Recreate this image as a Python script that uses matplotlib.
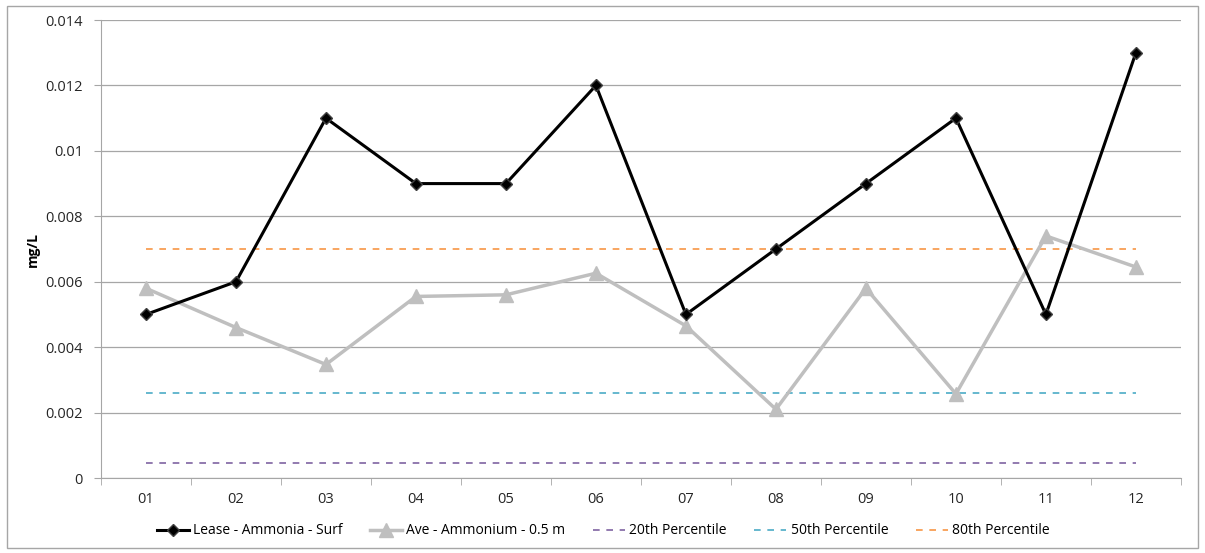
import matplotlib
matplotlib.use("Agg")
import matplotlib.pyplot as plt
from matplotlib.patches import Rectangle

months = ["01", "02", "03", "04", "05", "06", "07", "08", "09", "10", "11", "12"]
lease_ammonia = [0.005, 0.006, 0.011, 0.009, 0.009, 0.012, 0.005, 0.007, 0.009, 0.011, 0.005, 0.013]
ave_ammonium = [0.0058, 0.0046, 0.00347, 0.00555, 0.0056, 0.00626, 0.00465, 0.0021, 0.0058, 0.00257, 0.0074, 0.00645]
p20 = 0.00047
p50 = 0.0026
p80 = 0.007

plt.rcParams['font.family'] = ['Open Sans', 'DejaVu Sans']

fig = plt.figure(figsize=(12.05, 5.53), dpi=100)
ax = fig.add_axes([0.0838, 0.1356, 0.8962, 0.8282])

# outer chart frame
fig.patches.append(Rectangle((0.006, 0.009), 0.988, 0.981, transform=fig.transFigure,
                             fill=False, edgecolor="#a6a6a6", linewidth=1))

x = list(range(len(months)))
ax.plot(x, lease_ammonia, color="black", linewidth=2.2, marker="D", markersize=6,
        markerfacecolor="black", markeredgecolor="#404040", label="Lease - Ammonia - Surf", zorder=4)
ax.plot(x, ave_ammonium, color="#bfbfbf", linewidth=2.5, marker="^", markersize=10,
        label="Ave - Ammonium - 0.5 m", zorder=3)
ax.plot([x[0], x[-1]], [p20, p20], color="#7f64a2", linestyle=(0, (4, 4)), linewidth=1.2,
        label="20th Percentile", zorder=2)
ax.plot([x[0], x[-1]], [p50, p50], color="#4babc6", linestyle=(0, (4, 4)), linewidth=1.2,
        label="50th Percentile", zorder=2)
ax.plot([x[0], x[-1]], [p80, p80], color="#f79646", linestyle=(0, (4, 4)), linewidth=1.2,
        label="80th Percentile", zorder=2)

ax.set_xlim(-0.5, 11.5)
ax.set_ylim(0, 0.014)
ax.set_yticks([0, 0.002, 0.004, 0.006, 0.008, 0.01, 0.012, 0.014])
ax.set_yticklabels(["0", "0.002", "0.004", "0.006", "0.008", "0.01", "0.012", "0.014"])
ax.set_xticks(x)
ax.set_xticklabels(months)
ax.set_xticks([i - 0.5 for i in range(13)], minor=True)
ax.tick_params(axis="x", which="major", length=0, pad=10, labelsize=10.5, colors="#262626")
ax.tick_params(axis="x", which="minor", length=5, color="#a6a6a6", direction="out")
ax.tick_params(axis="y", length=5, color="#a6a6a6", labelsize=10.5, colors="#262626", pad=8)
ax.tick_params(axis="y", colors="#a6a6a6", labelcolor="#262626")

ax.grid(axis="y", color="#a6a6a6", linewidth=0.9)
ax.set_axisbelow(True)
for s in ["top", "right"]:
    ax.spines[s].set_visible(False)
for s in ["left", "bottom"]:
    ax.spines[s].set_color("#a6a6a6")

ax.set_ylabel("mg/L", fontsize=10, fontweight="bold", labelpad=4)

ax.legend(loc="upper center", bbox_to_anchor=(0.465, -0.072), ncol=5, frameon=False,
          fontsize=10, handlelength=2.3, columnspacing=2.0, handletextpad=0.3)

fig.savefig("out.png", dpi=100)
